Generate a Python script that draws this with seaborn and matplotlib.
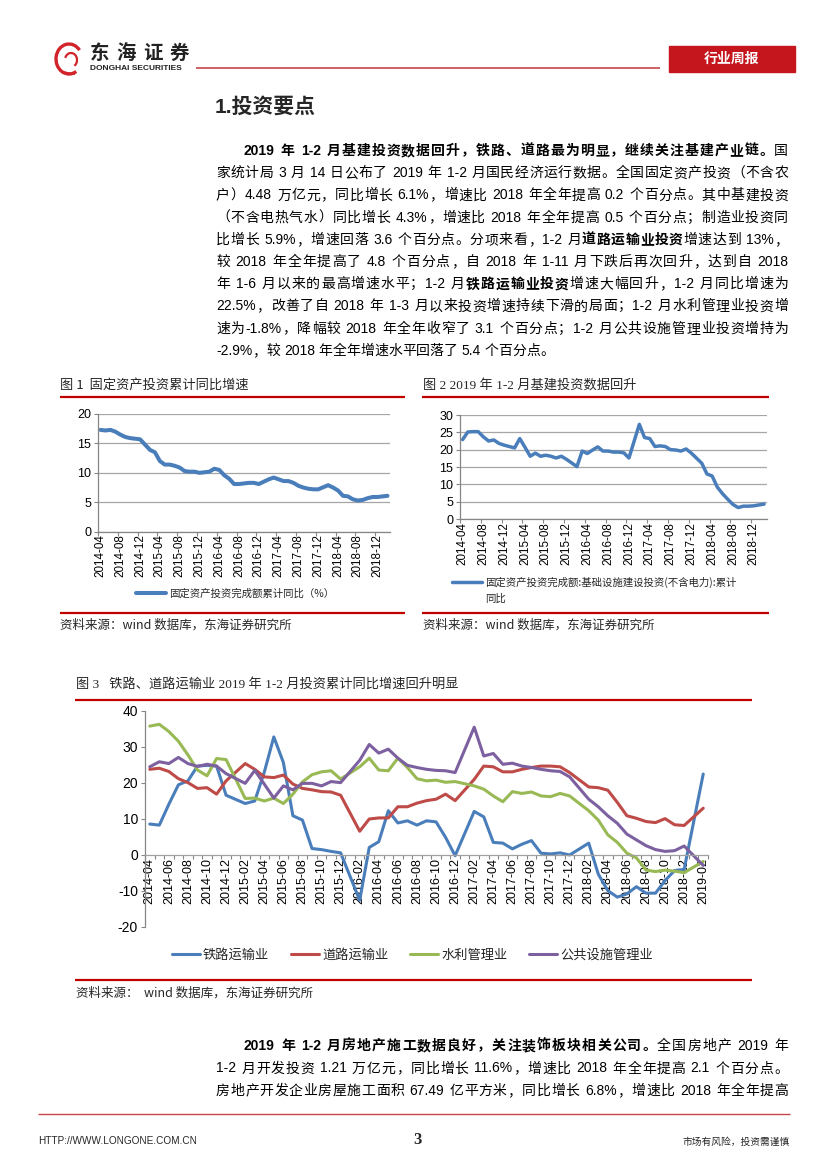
import numpy as np
import pandas as pd
import matplotlib
matplotlib.use('Agg')
import matplotlib.pyplot as plt
import seaborn as sns
from matplotlib.patches import Rectangle, Arc

W, H = 827, 1170

sns.set_theme(style='white')
BODY = ['Liberation Sans', 'Noto Sans CJK SC', 'DejaVu Sans']
SERIF = ['Liberation Serif', 'Noto Sans CJK SC', 'DejaVu Sans']
CJK = ['Noto Sans CJK SC', 'DejaVu Sans']
plt.rcParams['font.family'] = BODY
plt.rcParams['axes.unicode_minus'] = False

# monthly categories 2014-04 .. 2019-02 (January has no data, cumulative Jan-Feb)
all_months = pd.period_range('2014-04', '2019-02', freq='M')
data_months = [p for p in all_months if p.month != 1]

# Fig 1: fixed asset investment, cumulative yoy (%)
fai = [17.3, 17.2, 17.3, 17.0, 16.5, 16.1, 15.9, 15.8, 15.7,
       13.9, 13.5, 12.0, 11.4, 11.4, 11.2, 10.9, 10.3, 10.2, 10.2, 10.0,
       10.2, 10.7, 10.5, 9.6, 9.0, 8.1, 8.1, 8.2, 8.3, 8.3, 8.1,
       8.9, 9.2, 8.9, 8.6, 8.6, 8.3, 7.8, 7.5, 7.3, 7.2, 7.2,
       7.9, 7.5, 7.0, 6.1, 6.0, 5.5, 5.3, 5.4, 5.7, 5.9, 5.9,
       6.1]

# Fig 2: infrastructure investment (excl. power), cumulative yoy (%)
infra = [22.9, 25.1, 25.2, 25.2, 23.7, 22.5, 22.8, 21.8, 21.3,
         20.5, 23.2, 20.7, 18.1, 19.0, 18.1, 18.4, 18.1, 17.6, 18.1, 17.2,
         15.1, 19.6, 18.9, 19.9, 20.8, 19.6, 19.6, 19.3, 19.3, 19.1, 17.6,
         27.3, 23.5, 23.2, 20.9, 21.1, 20.9, 20.0, 19.9, 19.6, 20.2, 19.0,
         16.1, 13.0, 12.4, 9.2, 7.3, 5.7, 4.2, 3.3, 3.7, 3.7, 3.8,
         4.3]

# Fig 3: sub-sector investment, cumulative yoy (%)
rail = [8.6, 8.3, 14.1, 19.5, 20.6, 24.7, 24.9, 24.7, 16.6,
        14.3, 15.0, 23.0, 32.8, 25.7, 10.9, 9.7, 1.8, 1.5, 1.0, 0.6,
        -12.6, 2.1, 3.7, 12.3, 8.9, 9.5, 8.3, 9.5, 9.2, 4.9, -0.2,
        12.1, 10.6, 3.5, 3.3, 1.7, 3.0, 4.0, 0.5, 0.3, 0.6, 0.0,
        3.3, -5.3, -9.9, -11.7, -10.8, -8.8, -10.6, -10.6, -7.1, -4.3, -4.0,
        22.5]
road = [23.8, 24.1, 23.2, 21.2, 20.1, 18.5, 18.7, 16.9, 20.6,
        25.4, 23.8, 21.7, 21.5, 22.2, 19.7, 18.5, 18.1, 17.6, 17.5, 16.6,
        6.6, 10.0, 10.3, 10.3, 13.4, 13.4, 14.4, 15.1, 15.5, 16.9, 15.1,
        21.0, 24.7, 24.5, 23.1, 23.1, 23.8, 24.3, 24.7, 24.7, 24.5, 22.9,
        18.9, 18.7, 18.0, 14.6, 10.9, 10.2, 9.3, 9.0, 10.1, 8.4, 8.2,
        13.0]
water = [35.8, 36.3, 34.3, 31.6, 27.8, 23.6, 22.0, 26.8, 26.5,
         15.7, 15.8, 15.0, 15.8, 14.3, 16.9, 20.3, 22.3, 23.1, 23.4, 21.1,
         24.5, 26.9, 23.6, 23.4, 26.9, 24.3, 21.2, 20.6, 20.8, 20.2, 20.4,
         19.2, 18.3, 16.4, 14.8, 17.6, 17.1, 17.5, 16.4, 16.2, 17.1, 16.4,
         12.3, 9.7, 5.6, 3.5, 0.5, -0.8, -4.2, -4.6, -4.2, -4.5, -4.9,
         -1.8]
public = [24.5, 25.9, 25.4, 27.1, 25.4, 24.6, 25.2, 24.7, 22.6,
          19.9, 23.5, 19.7, 15.8, 19.2, 18.1, 19.9, 19.9, 19.2, 20.4, 20.1,
          26.3, 30.7, 28.3, 29.4, 26.9, 24.9, 24.3, 23.8, 23.5, 23.4, 22.9,
          35.5, 27.5, 28.2, 25.2, 25.5, 24.7, 24.3, 23.8, 23.4, 23.2, 21.7,
          15.5, 13.4, 10.9, 8.8, 5.8, 4.2, 2.6, 1.5, 1.0, 1.2, 2.5,
          -2.9]
series3 = ['铁路运输业', '道路运输业', '水利管理业', '公共设施管理业']
colors3 = ['#4a7ebb', '#be4b48', '#98b954', '#7d60a0']

month_labels = list(all_months.strftime('%Y-%m'))
pos = [list(all_months).index(p) for p in data_months]

df1 = pd.DataFrame({'pos': pos, 'value': fai})
df2 = pd.DataFrame({'pos': pos, 'value': infra})
df3 = pd.DataFrame({'pos': pos, '铁路运输业': rail, '道路运输业': road,
                    '水利管理业': water, '公共设施管理业': public})
df3 = df3.melt(id_vars='pos', var_name='series', value_name='value')

RED = '#c00000'
GRID = '#a6a6a6'
AXIS = '#868686'

fig = plt.figure(figsize=(W / 100, H / 100), dpi=100)
page = fig.add_axes([0, 0, 1, 1], zorder=0)
page.set_xlim(0, W)
page.set_ylim(H, 0)
page.axis('off')


def box(x0, y0, x1, y1):
    return [x0 / W, 1 - y1 / H, (x1 - x0) / W, (y1 - y0) / H]


def hline(x0, x1, y, color=RED, lw=1.6):
    page.plot([x0, x1], [y, y], color=color, lw=lw, solid_capstyle='butt')


# ---------- justified body text ----------
renderer = fig.canvas.get_renderer()
widths = {}


def text_width(s, size, bold):
    key = (s, size, bold)
    if key not in widths:
        t = page.text(0, 0, s, fontsize=size, family=BODY,
                      fontweight='bold' if bold else 'normal')
        widths[key] = t.get_window_extent(renderer).width
        t.remove()
    return widths[key]


def tokens(segs):
    out = []
    for s, b in segs:
        buf = ''
        for ch in s:
            if ord(ch) < 128 and ch != ' ':
                buf += ch
            else:
                if buf:
                    out.append((buf, b))
                    buf = ''
                out.append((ch, b))
        if buf:
            out.append((buf, b))
    return out


def draw_line(segs, y, x0, x1, size=10, justify=True):
    toks = tokens(segs)
    ws = []
    for t, b in toks:
        if t == ' ':
            ws.append(text_width('a a', size, b) - text_width('aa', size, b))
        else:
            ws.append(text_width(t, size, b))
    gap = (x1 - x0 - sum(ws)) / (len(toks) - 1) if justify else 0
    x = x0
    for (t, b), w in zip(toks, ws):
        if t != ' ':
            page.text(x, y, t, fontsize=size, family=BODY, ha='left', va='baseline',
                      fontweight='bold' if b else 'normal', color='black')
        x += w + gap


# ---------- header ----------
page.add_patch(Arc((69, 59), 26, 30, theta1=60, theta2=320, lw=2.4, color='#d2232a'))
page.add_patch(Arc((71, 60), 12, 14, theta1=200, theta2=420, lw=1.6, color='#d2232a'))
page.plot([62, 74], [72, 74], color='#d2232a', lw=1.4)
for k, ch in enumerate('东海证券'):
    page.text(90 + 26.5 * k, 53, ch, fontsize=14, family=CJK, fontweight='bold',
              ha='left', va='center', color='#222222')
page.text(90, 68.5, 'DONGHAI SECURITIES', fontsize=6, family=BODY, fontweight='bold',
          ha='left', va='center', color='#222222')
hline(196, 660, 67.5, color='#c8454a', lw=1.2)
page.add_patch(Rectangle((669, 46), 126, 26, color='#c4161c'))
page.text(732, 59, '行业周报', fontsize=10, family=CJK, fontweight='bold',
          ha='center', va='center', color='white')

# ---------- section title and paragraph ----------
page.text(215, 113, '1.投资要点', fontsize=15, family=BODY, fontweight='bold',
          ha='left', va='baseline')

L, R = 216, 788
para1 = [
    [('2019 年 1-2 月基建投资数据回升，铁路、道路最为明显，继续关注基建产业链。', True), ('国', False)],
    [('家统计局 3 月 14 日公布了 2019 年 1-2 月国民经济运行数据。全国固定资产投资（不含农', False)],
    [('户）4.48 万亿元，同比增长 6.1%，增速比 2018 年全年提高 0.2 个百分点。其中基建投资', False)],
    [('（不含电热气水）同比增长 4.3%，增速比 2018 年全年提高 0.5 个百分点；制造业投资同', False)],
    [('比增长 5.9%，增速回落 3.6 个百分点。分项来看，1-2 月', False), ('道路运输业投资', True),
     ('增速达到 13%，', False)],
    [('较 2018 年全年提高了 4.8 个百分点，自 2018 年 1-11 月下跌后再次回升，达到自 2018', False)],
    [('年 1-6 月以来的最高增速水平；1-2 月', False), ('铁路运输业投资', True),
     ('增速大幅回升，1-2 月同比增速为', False)],
    [('22.5%，改善了自 2018 年 1-3 月以来投资增速持续下滑的局面；1-2 月水利管理业投资增', False)],
    [('速为-1.8%，降幅较 2018 年全年收窄了 3.1 个百分点；1-2 月公共设施管理业投资增持为', False)],
    [('-2.9%，较 2018 年全年增速水平回落了 5.4 个百分点。', False)],
]
for k, segs in enumerate(para1):
    y = 155 + 22.2 * k
    x0 = 244 if k == 0 else L
    draw_line(segs, y, x0, R, justify=(k < len(para1) - 1))

para2 = [
    [('2019 年 1-2 月房地产施工数据良好，关注装饰板块相关公司。', True), ('全国房地产 2019 年', False)],
    [('1-2 月开发投资 1.21 万亿元，同比增长 11.6%，增速比 2018 年全年提高 2.1 个百分点。', False)],
    [('房地产开发企业房屋施工面积 67.49 亿平方米，同比增长 6.8%，增速比 2018 年全年提高', False)],
]
for k, segs in enumerate(para2):
    y = 1050 + 22.5 * k
    x0 = 244 if k == 0 else L
    draw_line(segs, y, x0, R)


def style_axis(ax, ymin, ymax, ystep, step, xsize, ysize, grid=True, minor_step=None):
    ax.set_facecolor('none')
    ax.set_xlim(-0.5, len(all_months) - 0.5)
    ax.set_ylim(ymin, ymax)
    ax.set_yticks(np.arange(ymin, ymax + 0.1, ystep))
    ax.set_yticklabels([f'{v:g}' for v in np.arange(ymin, ymax + 0.1, ystep)],
                       fontsize=ysize, family=BODY)
    ticks = list(range(0, len(all_months), step))
    ax.set_xticks(ticks)
    ax.set_xticklabels([month_labels[i] for i in ticks], rotation=90,
                       fontsize=xsize, family=BODY)
    ax.set_xticks(np.arange(-0.5, len(all_months), minor_step or step), minor=True)
    ax.tick_params(axis='x', which='major', length=0, pad=2, colors='black')
    ax.tick_params(axis='x', which='minor', length=3, width=0.8, color=AXIS, bottom=True)
    ax.tick_params(axis='y', length=3, width=0.8, color=AXIS, left=True, pad=2,
                   labelcolor='black')
    for s in ['top', 'right']:
        ax.spines[s].set_visible(False)
    for s in ['left', 'bottom']:
        ax.spines[s].set_color(AXIS)
        ax.spines[s].set_linewidth(0.9)
    if grid:
        ax.yaxis.grid(True, color=GRID, lw=0.9)
        ax.set_axisbelow(True)
    ax.set_xlabel('')
    ax.set_ylabel('')


# ---------- Figure 1 ----------
page.text(60, 385, '图 1  固定资产投资累计同比增速', fontsize=9.5, family=CJK,
          ha='left', va='center')
hline(60, 405, 396.5)
ax1 = fig.add_axes(box(98, 414, 390, 531.7), zorder=1)
sns.lineplot(data=df1, x='pos', y='value', ax=ax1, color='#4a7ebb', linewidth=2.9,
             label='固定资产投资完成额累计同比（%）')
style_axis(ax1, 0, 20, 5, 4, 8.4, 9)
ax1.legend(loc='center left', bbox_to_anchor=(136 / W, 1 - 594 / H),
           bbox_transform=fig.transFigure, frameon=False, borderpad=0, borderaxespad=0,
           handlelength=2.9, handletextpad=0.25, prop={'family': CJK, 'size': 7.5})
hline(60, 405, 612.5)
page.text(60, 625, '资料来源：wind 数据库，东海证券研究所', fontsize=9, family=CJK,
          ha='left', va='center')

# ---------- Figure 2 ----------
page.text(423, 385, '图 2 2019 年 1-2 月基建投资数据回升', fontsize=9.5, family=SERIF,
          ha='left', va='center')
hline(422, 769, 396.5)
ax2 = fig.add_axes(box(460, 415, 766.7, 519), zorder=1)
sns.lineplot(data=df2, x='pos', y='value', ax=ax2, color='#4a7ebb', linewidth=2.5,
             label='固定资产投资完成额:基础设施建设投资(不含电力):累计')
style_axis(ax2, 0, 30, 5, 4, 8.4, 9)
leg2 = ax2.legend(loc='center left', bbox_to_anchor=(452 / W, 1 - 582 / H),
                  bbox_transform=fig.transFigure, frameon=False, borderpad=0, borderaxespad=0,
                  handlelength=2.9, handletextpad=0.25, prop={'family': CJK, 'size': 7.5})
fig.canvas.draw()
tx0 = leg2.get_texts()[0].get_window_extent(renderer).x0
page.text(tx0, 599, '同比', fontsize=7.5, family=CJK, ha='left', va='center')
hline(422, 769, 612.5)
page.text(423, 625, '资料来源：wind 数据库，东海证券研究所', fontsize=9, family=CJK,
          ha='left', va='center')

# ---------- Figure 3 ----------
page.text(76, 684, '图 3   铁路、道路运输业 2019 年 1-2 月投资累计同比增速回升明显', fontsize=9.5,
          family=SERIF, ha='left', va='center')
hline(75, 752, 700)
ax3 = fig.add_axes(box(145, 711, 708, 927), zorder=1)
ax3.spines['bottom'].set_position(('data', 0))
sns.lineplot(data=df3, x='pos', y='value', hue='series', hue_order=series3,
             palette=dict(zip(series3, colors3)), linewidth=2.2, ax=ax3)
style_axis(ax3, -20, 40, 10, 2, 9, 10, grid=False, minor_step=1)
ax3.spines['bottom'].set_color('#a0a0a0')
handles, labels = ax3.get_legend_handles_labels()
ax3.legend(handles, labels, loc='center left', bbox_to_anchor=(172 / W, 1 - 955 / H),
           bbox_transform=fig.transFigure, ncol=4, frameon=False, borderpad=0,
           borderaxespad=0, handlelength=2.1, handletextpad=0.25, columnspacing=1.65,
           prop={'family': CJK, 'size': 9.5})
hline(75, 752, 980)
page.text(76, 993, '资料来源：  wind 数据库，东海证券研究所', fontsize=9, family=CJK,
          ha='left', va='center')

# ---------- footer ----------
hline(38, 790, 1114, color='#c8454a', lw=1.0)
page.text(38, 1141, 'HTTP://WWW.LONGONE.COM.CN', fontsize=7.2, family=BODY,
          ha='left', va='center')
page.text(418, 1140, '3', fontsize=12, family=SERIF, fontweight='bold',
          ha='center', va='center')
page.text(790, 1142, '市场有风险，投资需谨慎', fontsize=7, family=CJK,
          ha='right', va='center')

fig.savefig('out.png', dpi=100)
